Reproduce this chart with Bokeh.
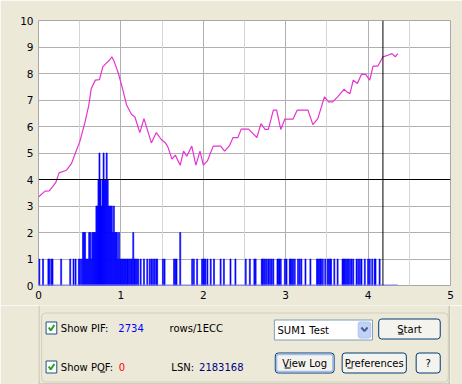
from bokeh.plotting import figure
from bokeh.models import Range1d, FixedTicker, Grid, Span, BoxAnnotation
from bokeh.layouts import column
from bokeh.core.properties import value
from bokeh.embed import file_html
from bokeh.resources import INLINE

# ---------------- data ----------------
x_ticks = [0, 1, 2, 3, 4, 5]
y_ticks = [0, 1, 2, 3, 4, 5, 6, 7, 8, 9, 10]
x_half_ticks = [0.5, 1.5, 2.5, 3.5, 4.5]

speed_x = [0.0, 0.08, 0.13, 0.17, 0.21, 0.25, 0.34, 0.40, 0.45, 0.50, 0.56, 0.61, 0.64, 0.69,
           0.74, 0.78, 0.82, 0.86, 0.89, 0.92, 0.97, 1.02, 1.07, 1.13, 1.17, 1.23, 1.28, 1.37,
           1.43, 1.49, 1.54, 1.57, 1.62, 1.66, 1.72, 1.76, 1.80, 1.86, 1.91, 1.96, 2.00, 2.05,
           2.12, 2.21, 2.26, 2.32, 2.36, 2.42, 2.46, 2.55, 2.65, 2.70, 2.75, 2.79, 2.85, 2.89,
           2.94, 2.99, 3.09, 3.14, 3.27, 3.33, 3.39, 3.47, 3.52, 3.57, 3.63, 3.71, 3.74, 3.78,
           3.82, 3.87, 3.92, 3.97, 4.02, 4.06, 4.12, 4.18, 4.24, 4.29, 4.33, 4.36]
speed_y = [3.34, 3.56, 3.57, 3.72, 3.89, 4.25, 4.35, 4.6, 5.02, 5.42, 6.11, 6.8, 7.43, 7.75,
           7.77, 8.25, 8.38, 8.5, 8.63, 8.44, 8.0, 7.43, 6.8, 6.45, 6.36, 5.77, 6.3, 5.38,
           5.77, 5.51, 5.38, 5.23, 4.77, 4.92, 4.54, 5.07, 4.88, 5.26, 4.54, 5.07, 4.54, 4.70,
           5.26, 5.26, 5.07, 5.29, 5.58, 5.58, 5.9, 5.9, 5.58, 6.11, 5.89, 5.89, 6.62, 6.62,
           5.89, 6.28, 6.28, 6.62, 6.62, 6.07, 6.3, 7.12, 6.93, 6.93, 7.12, 7.41, 7.31, 7.24,
           7.75, 7.62, 7.97, 7.97, 7.75, 8.28, 8.28, 8.63, 8.69, 8.75, 8.63, 8.75]

pif_x = [0.01, 0.055, 0.12, 0.13, 0.155, 0.17, 0.275, 0.385, 0.425, 0.45, 0.49, 0.505, 0.525,
         0.54, 0.5525, 0.565, 0.5775, 0.59, 0.6025, 0.615, 0.6275, 0.64, 0.6525, 0.665, 0.6775,
         0.69, 0.7025, 0.715, 0.7275, 0.74, 0.7525, 0.765, 0.7775, 0.79, 0.8025, 0.815, 0.8275,
         0.84, 0.8525, 0.865, 0.8775, 0.89, 0.9025, 0.915, 0.9275, 0.94, 0.9525, 0.965, 0.9775,
         0.99, 1.0025, 1.015, 1.0275, 1.04, 1.0525,
         1.065, 1.08, 1.095, 1.11, 1.125, 1.135, 1.15, 1.165, 1.18, 1.195, 1.21, 1.24, 1.28,
         1.32, 1.35, 1.37, 1.39, 1.41, 1.43, 1.44, 1.51, 1.53, 1.645, 1.66, 1.675, 1.72, 1.865,
         1.885, 1.925, 1.985, 2.0, 2.01, 2.025, 2.05, 2.09, 2.13, 2.21, 2.25, 2.33, 2.39, 2.515,
         2.565, 2.62, 2.635, 2.71, 2.72, 2.735, 2.75, 2.77, 2.79, 2.81, 2.83, 2.85, 2.90, 2.91,
         2.925, 2.94, 2.99, 3.01, 3.05, 3.06, 3.075, 3.09, 3.11, 3.15, 3.17, 3.19, 3.24, 3.30,
         3.38, 3.39, 3.405, 3.42, 3.43, 3.45, 3.48, 3.51, 3.525, 3.54, 3.55, 3.59, 3.63, 3.69,
         3.70, 3.715, 3.73, 3.745, 3.76, 3.78, 3.80, 3.82, 3.86, 3.88, 3.90, 3.92, 3.96, 4.0,
         4.02, 4.05, 4.08, 4.09, 4.14]
pif_h = [1, 1, 1, 1, 1, 1, 1, 1, 1, 1, 1, 1, 1,
         2, 2, 2, 1, 1, 1, 2, 2, 1, 2, 2, 2,
         2, 3, 3, 4, 5, 4, 3, 4, 5, 4, 4, 5,
         4, 3, 3, 3, 3, 2, 3, 2, 2, 2, 1, 2,
         1, 1, 1, 1, 1, 1,
         1, 1, 1, 1, 1, 1, 2, 1, 1, 1, 1, 1, 1,
         1, 1, 1, 1, 1, 1, 1, 1, 1, 1, 1, 1, 2, 1,
         1, 1, 1, 1, 1, 1, 1, 1, 1, 1, 1, 1, 1, 1,
         1, 1, 1, 1, 1, 1, 1, 1, 1, 1, 1, 1, 1, 1,
         1, 1, 1, 1, 1, 1, 1, 1, 1, 1, 1, 1, 1, 1,
         1, 1, 1, 1, 1, 1, 1, 1, 1, 1, 1, 1, 1, 1,
         1, 1, 1, 1, 1, 1, 1, 1, 1, 1, 1, 1, 1, 1,
         1, 1, 1, 1, 1]

pif_limit = 4
cursor_x = 4.18
pif_total = "2734"
pof_total = "0"
lsn_value = "2183168"
test_mode = "SUM1 Test"

FONT = value("DejaVu Sans")
BEIGE = "#ECE9D8"

# ---------------- chart ----------------
p = figure(width=462, height=305, x_range=Range1d(0, 5), y_range=Range1d(0, 10),
           output_backend="svg", toolbar_location=None,
           min_border_left=38, min_border_right=12, min_border_top=20, min_border_bottom=20,
           background_fill_color="white", border_fill_color=BEIGE,
           outline_line_color="#A8A8A8")

p.xaxis.ticker = FixedTicker(ticks=x_ticks)
p.yaxis.ticker = FixedTicker(ticks=y_ticks)
for ax in (p.xaxis[0], p.yaxis[0]):
    ax.axis_line_color = None
    ax.major_tick_line_color = None
    ax.minor_tick_line_color = None
    ax.major_tick_out = 0
    ax.major_tick_in = 0
    ax.minor_tick_out = 0
    ax.major_label_standoff = 5
    ax.major_label_text_font = "DejaVu Sans"
    ax.major_label_text_font_size = "10.5px"
    ax.major_label_text_color = "#000010"

p.xgrid.ticker = FixedTicker(ticks=x_ticks)
p.xgrid.grid_line_color = "#B0B0B0"
p.ygrid.ticker = FixedTicker(ticks=y_ticks)
p.ygrid.grid_line_color = "#B0B0B0"
half = Grid(dimension=0, ticker=FixedTicker(ticks=x_half_ticks), grid_line_color="#D6D6D6")
p.add_layout(half)

p.vbar(x=pif_x, top=pif_h, bottom=0, width=0.0125, fill_color="#0000FF",
       line_color="#0000FF", line_width=0.6)
p.line(x=[speed_x[0], speed_x[-1]], y=[0, 0], line_color="#8080F8", line_width=2)
p.line(x=speed_x, y=speed_y, line_color="#E632D2", line_width=1.2)

p.add_layout(Span(location=pif_limit, dimension="width", line_color="black", line_width=1))
p.add_layout(Span(location=cursor_x, dimension="height", line_color="black", line_width=1))

p.add_layout(BoxAnnotation(left=0.5, right=460.5, top=6.5, bottom=340,
                           left_units="canvas", right_units="canvas",
                           top_units="canvas", bottom_units="canvas",
                           fill_alpha=0, line_color="#B8B5A6", line_width=1))

# ---------------- control panel ----------------
q = figure(width=462, height=79, x_range=Range1d(0, 462), y_range=Range1d(384, 305),
           output_backend="svg", toolbar_location=None, min_border=0,
           x_axis_type=None, y_axis_type=None,
           background_fill_color=BEIGE, border_fill_color=BEIGE, outline_line_color=None)
q.grid.visible = False

# tab page border
q.segment(x0=[0.5, 460.5, 0.5], y0=[305, 305, 383.5], x1=[0.5, 460.5, 460.5], y1=[383.5, 383.5, 383.5],
          line_color="#B8B5A6", line_width=1)
# group box
q.quad(left=3.5, right=459.5, top=312.5, bottom=381.5, fill_color=None,
       line_color="#D0D0BF", line_width=1, border_radius=4)

# checkboxes
q.quad(left=[8.5, 8.5], right=[20.5, 20.5], top=[321.5, 360.5], bottom=[333.5, 372.5],
       fill_color="white", line_color="#1C5180", line_width=1)
q.multi_line(xs=[[11.5, 13.7, 17.8], [11.5, 13.7, 17.8]],
             ys=[[327.0, 330.0, 324.5], [366.0, 369.0, 363.5]],
             line_color="#21A121", line_width=2)

# label texts
q.text(x=[25, 147, 25, 149], y=[327.5, 327.5, 366.5, 366.5],
       text=["Show PIF:", "rows/1ECC", "Show POF:", "LSN:"],
       text_font=FONT, text_font_size="10px", text_color="#000000",
       text_baseline="middle", text_align="left")
q.text(x=[89.5, 90, 180], y=[327.5, 366.5, 366.5], text=[pif_total, pof_total, lsn_value],
       text_font=FONT, text_font_size="10px", text_color=["#0000FF", "#FF0000", "#000080"],
       text_baseline="middle", text_align="left")

# select box
q.quad(left=264.5, right=374.5, top=319.5, bottom=339.5, fill_color="white",
       line_color="#7F9DB9", line_width=1)
q.quad(left=358.5, right=372.5, top=321.5, bottom=337.5, fill_color="#C1D2FA",
       line_color="#B0C4F0", line_width=1, border_radius=2)
q.line(x=[362, 365.5, 369], y=[327, 330.5, 327], line_color="#4D6185", line_width=2)
q.text(x=[268], y=[329.5], text=[test_mode], text_font=FONT, text_font_size="10px",
       text_color="#000000", text_baseline="middle", text_align="left")

# buttons
bl = [381.5, 265.5, 340.5, 423.5]
br = [450.5, 331.5, 412.5, 450.5]
bt = [318.5, 352.5, 352.5, 352.5]
bb = [338.5, 372.5, 372.5, 372.5]
q.quad(left=bl, right=br, top=bt, bottom=bb, fill_color="#F4F3EE",
       line_color="#003C74", line_width=1, border_radius=3)
q.quad(left=267, right=330, top=354, bottom=371, fill_color=None,
       line_color="#A2BDEE", line_width=1.5, border_radius=2)
q.text(x=[(l + r) / 2 for l, r in zip(bl, br)], y=[328.8, 362.8, 362.8, 362.8],
       text=["Start", "View Log", "Preferences", "?"],
       text_font=FONT, text_font_size="10px", text_color="#000000",
       text_baseline="middle", text_align="center")
# mnemonic underlines
q.segment(x0=[403.4, 276.0, 346.3, 69.2], y0=[333.5, 367.5, 367.5, 371.5],
          x1=[409.6, 282.6, 352.2, 74.8], y1=[333.5, 367.5, 367.5, 371.5],
          line_color="#000000", line_width=1)

layout = column(p, q, spacing=0)
open("out.html", "w").write(file_html(layout, INLINE))
